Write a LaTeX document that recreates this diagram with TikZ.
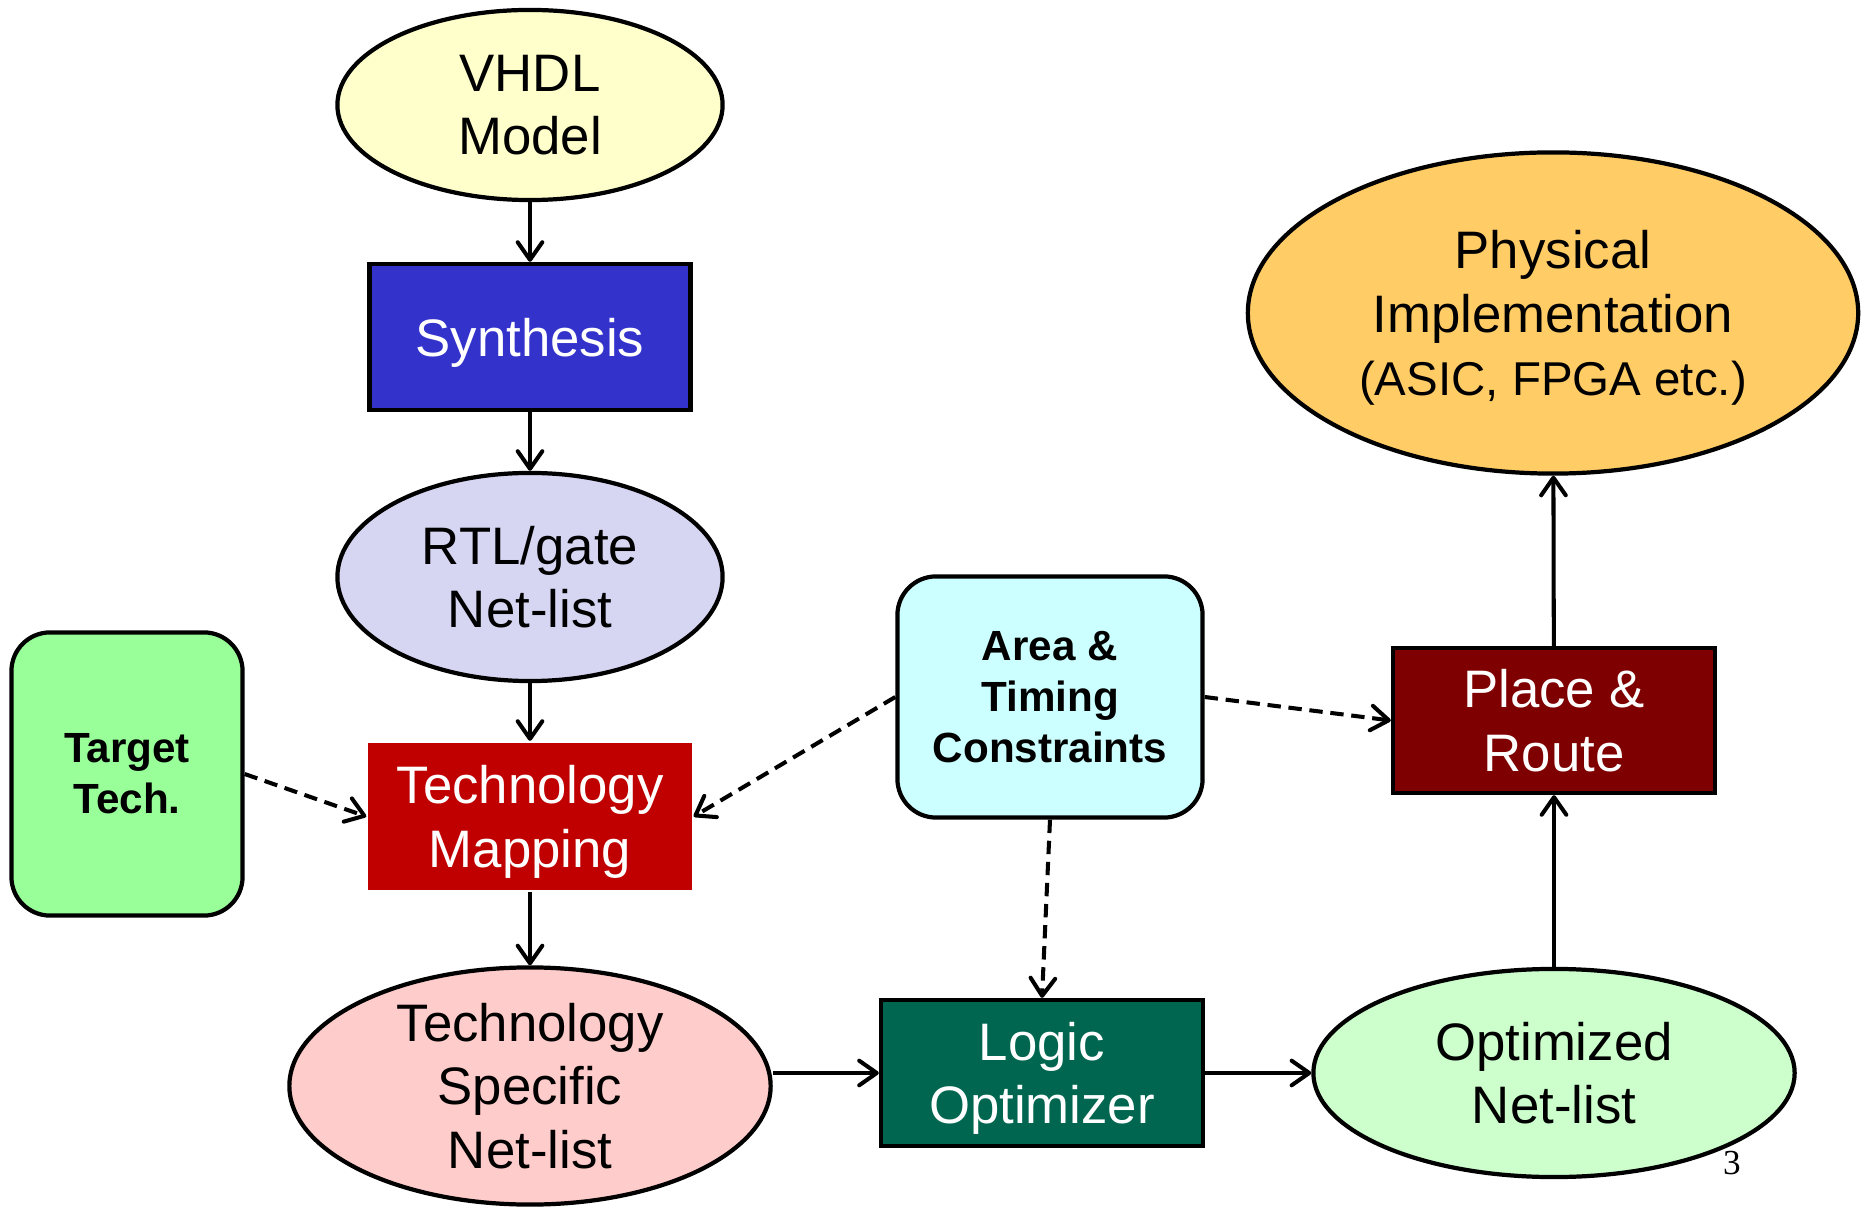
\documentclass[tikz,border=0pt]{standalone}
\usepackage{fontspec}
\setmainfont{Liberation Sans}
\newfontfamily\pagefont{Liberation Serif}
\usetikzlibrary{shapes.geometric,arrows.meta}

\definecolor{vhdlyellow}{HTML}{FFFFCC}
\definecolor{synthblue}{HTML}{3333CC}
\definecolor{rtllilac}{HTML}{D6D6F3}
\definecolor{targetgreen}{HTML}{99FF99}
\definecolor{techred}{HTML}{C00000}
\definecolor{areacyan}{HTML}{CCFFFF}
\definecolor{placemaroon}{HTML}{7F0000}
\definecolor{physorange}{HTML}{FFCC66}
\definecolor{techpink}{HTML}{FFCCCC}
\definecolor{optgreen}{HTML}{00664F}
\definecolor{optnetgreen}{HTML}{CCFFCC}

\begin{document}
\begin{tikzpicture}
  [x=0.01cm,y=-0.01cm,
   every node/.style={draw=black,line width=1.2pt,align=center,inner sep=0pt,
     font=\fontsize{15}{18}\selectfont},
   blob/.style={ellipse},
   box/.style={rectangle,text depth=0pt},
   rbox/.style={rectangle,rounded corners=11pt,font=\bfseries\fontsize{12}{14.5}\selectfont},
   flow/.style={line width=1.15pt,-{Straight Barb[length=5pt,width=7pt,round]}},
   hint/.style={flow,dash pattern=on 3.8pt off 2.2pt}]
  \useasboundingbox (0,0) rectangle (1864,1207);

  \node[blob,fill=vhdlyellow,minimum width=3.85cm,minimum height=1.9cm] (vhdl) at (530,105) {VHDL\\Model};
  \node[box,fill=synthblue,text=white,minimum width=3.21cm,minimum height=1.46cm] (synth) at (530,337) {Synthesis};
  \node[blob,fill=rtllilac,minimum width=3.85cm,minimum height=2.08cm] (rtl) at (530,577) {RTL/gate\\Net-list};
  \node[rbox,fill=targetgreen,minimum width=2.31cm,minimum height=2.83cm] (target) at (127,774) {Target\\Tech.};
  \node[box,draw=none,fill=techred,text=white,minimum width=3.23cm,minimum height=1.47cm] (techmap) at (530,816.5) {Technology\\Mapping};
  \node[rbox,fill=areacyan,minimum width=3.05cm,minimum height=2.41cm] (area) at (1050,697) {Area \&\\Timing\\Constraints};
  \node[box,fill=placemaroon,text=white,minimum width=3.22cm,minimum height=1.45cm] (place) at (1554,720.5) {Place \&\\Route};
  \node[blob,fill=physorange,text depth=0pt,minimum width=6.1cm,minimum height=3.21cm] (phys) at (1553,313)
    {Physical\\Implementation\\{\fontsize{13.5}{16}\selectfont (ASIC, FPGA etc.)}};
  \node[blob,fill=techpink,inner ysep=-6pt,minimum width=4.81cm,minimum height=2.37cm] (techspec) at (530,1086) {Technology\\Specific\\Net-list};
  \node[box,fill=optgreen,text=white,minimum width=3.22cm,minimum height=1.46cm] (logicopt) at (1042,1073) {Logic\\Optimizer};
  \node[blob,fill=optnetgreen,minimum width=4.81cm,minimum height=2.08cm] (optnet) at (1554,1073) {Optimized\\Net-list};
  \node[draw=none,font=\pagefont\fontsize{10}{12}\selectfont] (page) at (1732,1163) {3};

  \foreach \src/\dst in {vhdl/synth,synth/rtl,rtl/techmap,techmap/techspec,
                         logicopt/optnet,optnet/place,place/phys}
    \draw[flow] (\src) -- (\dst);
  \draw[flow] (techspec.east |- logicopt) -- (logicopt);

  \foreach \src/\dst in {target.east/techmap.west,area.west/techmap.east,
                         area.east/place.west,area.south/logicopt.north}
    \draw[hint] (\src) -- (\dst);

\end{tikzpicture}
\end{document}
